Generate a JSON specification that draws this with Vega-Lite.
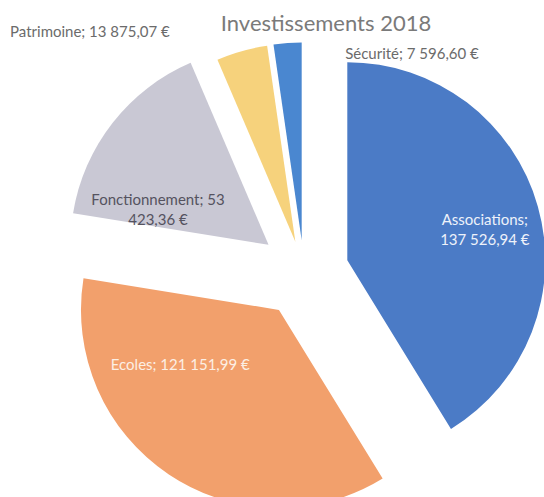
{
  "$schema": "https://vega.github.io/schema/vega-lite/v6.json",
  "autosize": "none",
  "width": 544,
  "height": 497,
  "padding": 0,
  "background": "white",
  "title": {
    "text": "Investissements 2018",
    "anchor": "middle",
    "dx": 54,
    "offset": -36,
    "fontSize": 22,
    "font": "Lato",
    "fontWeight": "normal",
    "color": "#7a7a7a"
  },
  "data": {
    "values": [
      {"category": "Associations", "amount": 137526.94, "label": "Associations;\n137 526,94 €"},
      {"category": "Ecoles", "amount": 121151.99, "label": "Ecoles; 121 151,99 €"},
      {"category": "Fonctionnement", "amount": 53423.36, "label": "Fonctionnement; 53\n423,36 €"},
      {"category": "Patrimoine", "amount": 13875.07, "label": "Patrimoine; 13 875,07 €"},
      {"category": "Sécurité", "amount": 7596.60, "label": "Sécurité; 7 596,60 €"}
    ]
  },
  "encoding": {
    "theta": {"field": "amount", "type": "quantitative", "stack": true},
    "order": {"field": "category", "type": "nominal"}
  },
  "layer": [
    {
      "mark": {
        "type": "arc",
        "outerRadius": 198,
        "x": {"expr": "width/2 + 32 + (datum.amount < 20000 ? 32 : 45) * sin(scale('theta', (datum.amount_start + datum.amount_end)/2))"},
        "y": {"expr": "height/2 + 24 - (datum.amount < 20000 ? 32 : 45) * cos(scale('theta', (datum.amount_start + datum.amount_end)/2))"}
      },
      "encoding": {
        "color": {
          "field": "category",
          "type": "nominal",
          "scale": {
            "domain": ["Associations", "Ecoles", "Fonctionnement", "Patrimoine", "Sécurité"],
            "range": ["#4b7bc6", "#f2a06c", "#c9c8d4", "#f6d27c", "#4a87d0"]
          },
          "legend": null
        }
      }
    },
    {
      "mark": {"type": "text", "x": {"expr": "width/2 + 30"}, "y": {"expr": "height/2 + 23.5"}, "radius": 190, "font": "Lato", "fontSize": 15, "color": "#eef2fa", "lineBreak": "\n", "lineHeight": 20, "align": "center"},
      "encoding": {"text": {"condition": {"test": "datum.category === 'Associations'", "field": "label"}, "value": ""}}
    },
    {
      "mark": {"type": "text", "x": {"expr": "width/2 + 30"}, "y": {"expr": "height/2 + 23.5"}, "radius": 156, "dx": -35, "dy": -37, "font": "Lato", "fontSize": 15, "color": "#fcefe4", "align": "center"},
      "encoding": {"text": {"condition": {"test": "datum.category === 'Ecoles'", "field": "label"}, "value": ""}}
    },
    {
      "mark": {"type": "text", "x": {"expr": "width/2 + 30"}, "y": {"expr": "height/2 + 23.5"}, "radius": 165, "dx": -14, "dy": 30, "font": "Lato", "fontSize": 15, "color": "#55535f", "lineBreak": "\n", "lineHeight": 20, "align": "center"},
      "encoding": {"text": {"condition": {"test": "datum.category === 'Fonctionnement'", "field": "label"}, "value": ""}}
    },
    {
      "mark": {"type": "text", "x": {"expr": "width/2 + 30"}, "y": {"expr": "height/2 + 23.5"}, "radius": 230, "dx": -70, "dy": -18.5, "font": "Lato", "fontSize": 15, "color": "#6b6b6b", "align": "right"},
      "encoding": {"text": {"condition": {"test": "datum.category === 'Patrimoine'", "field": "label"}, "value": ""}}
    },
    {
      "mark": {"type": "text", "x": {"expr": "width/2 + 30"}, "y": {"expr": "height/2 + 23.5"}, "radius": 222, "dx": 59, "dy": 3, "font": "Lato", "fontSize": 15, "color": "#6b6b6b", "align": "left"},
      "encoding": {"text": {"condition": {"test": "datum.category === 'Sécurité'", "field": "label"}, "value": ""}}
    }
  ]
}
